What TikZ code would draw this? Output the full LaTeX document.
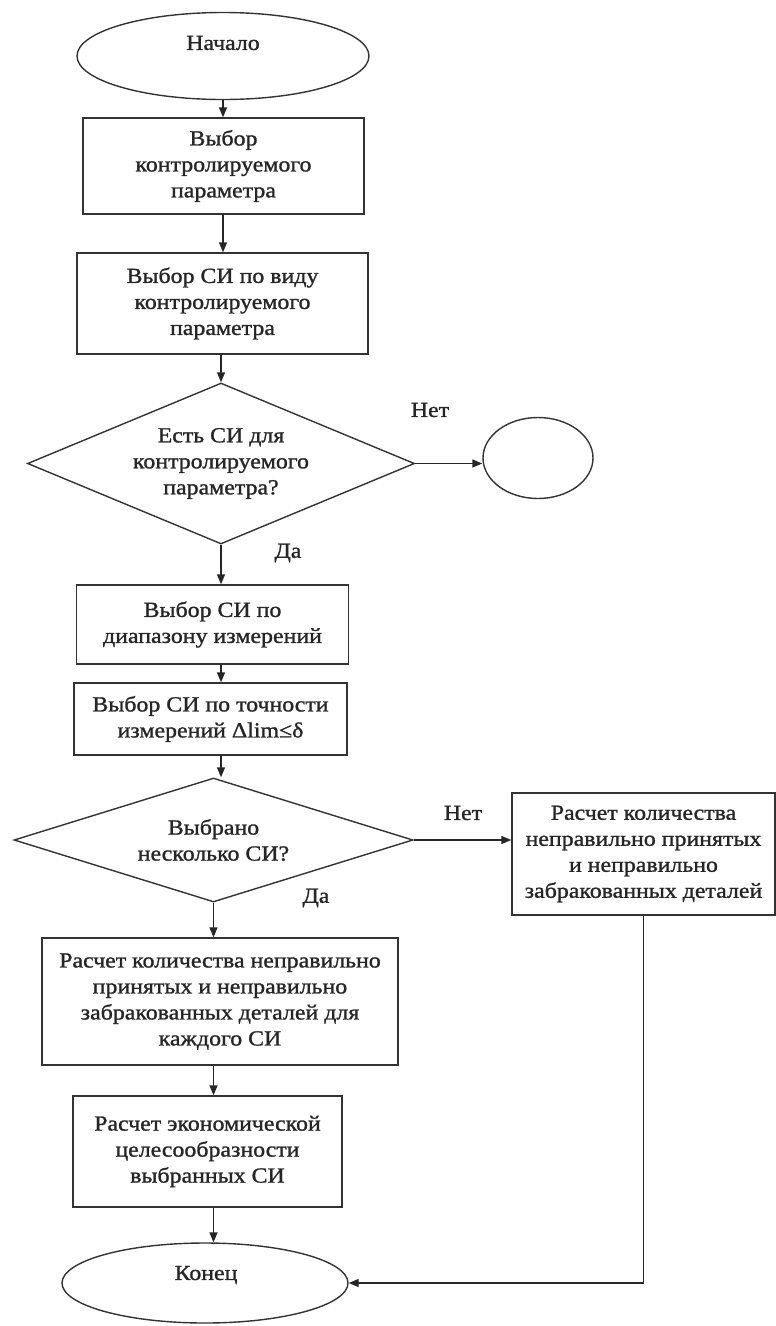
\documentclass[tikz,border=0pt]{standalone}
\usepackage{fontspec}
\setmainfont{Liberation Serif}[FakeStretch=1.11,FakeBold=1.2]
\usetikzlibrary{shapes.geometric,arrows.meta}
\begin{document}
\begin{tikzpicture}[x=1pt,y=-1pt,
  every node/.style={font=\fontsize{21.5}{26}\selectfont, text=black!85},
  box/.style={draw=black!80, line width=1.4pt, rectangle, align=center, inner sep=0pt},
  term/.style={draw=black!80, line width=1.4pt, ellipse, inner sep=0pt},
  dec/.style={draw=black!80, line width=1.4pt, diamond, align=center, inner sep=0pt},
  arr/.style={draw=black!85, line width=1.4pt, -{Triangle[length=10pt,width=8pt]}},
  ln/.style={line width=1.4pt}]
\useasboundingbox (0,0) rectangle (776,1326);
\fill[white] (0,0) rectangle (776,1326);

\node[term, minimum width=292pt, minimum height=87pt] (start) at (223,56) {};
\node (starttxt) at (223,43) {Начало};
\node[box, minimum width=281pt, minimum height=96pt] (b1) at (223.5,166) {Выбор\\контролируемого\\параметра};
\node[box, minimum width=291pt, minimum height=101pt] (b2) at (222.5,303.5) {Выбор СИ по виду\\контролируемого\\параметра};
\node[dec, aspect=2.4, minimum width=387pt, minimum height=161pt] (d1) at (221,463.5) {Есть СИ для\\контролируемого\\параметра?};
\node[term, minimum width=110pt, minimum height=81pt] (c1) at (538,458) {};
\node (no1) at (430,410) {Нет};
\node (yes1) at (288,553) {Да};
\node[box, minimum width=272pt, minimum height=79pt] (b3) at (212.5,624.5) {Выбор СИ по\\диапазону измерений};
\node[box, minimum width=273pt, minimum height=72pt] (b4) at (210.5,719) {Выбор СИ по точности\\измерений Δlim≤δ};
\node[dec, aspect=3.2, minimum width=399pt, minimum height=124pt] (d2) at (213.5,840) {Выбрано\\несколько СИ?};
\node (no2) at (463,813) {Нет};
\node (yes2) at (316,898) {Да};
\node[box, minimum width=263pt, minimum height=122pt] (b5) at (643.5,854) {Расчет количества\\неправильно принятых\\и неправильно\\забракованных деталей};
\node[box, minimum width=356pt, minimum height=127pt] (b6) at (220,1001.5) {Расчет количества неправильно\\принятых и неправильно\\забракованных деталей для\\каждого СИ};
\node[box, minimum width=269pt, minimum height=111pt] (b7) at (207.5,1151.5) {Расчет экономической\\целесообразности\\выбранных СИ};
\node[term, minimum width=286pt, minimum height=80pt] (stop) at (205,1283) {};
\node (stoptxt) at (206,1275) {Конец};

\draw[arr] (start.south) -- (start.south |- b1.north);
\draw[arr] (b1.south -| start.south) -- (b2.north -| start.south);
\draw[arr] (b2.south -| d1.north) -- (d1.north);
\draw[arr] (d1.east) -- (d1.east -| c1.west);
\draw[arr] (d1.south) -- (d1.south |- b3.north);
\draw[arr] (b3.south -| d1.south) -- (b4.north -| d1.south);
\draw[arr] (b4.south -| d1.south) -- (d2.north -| d1.south);
\draw[arr] (d2.east) -- (d2.east -| b5.west);
\draw[arr] (d2.south) -- (d2.south |- b6.north);
\draw[arr] (b6.south -| d2.south) -- (b7.north -| d2.south);
\draw[arr] (b7.south -| d2.south) -- (stop.north -| d2.south);
\draw[arr] (b5.south) |- (stop.east);
\end{tikzpicture}
\end{document}
